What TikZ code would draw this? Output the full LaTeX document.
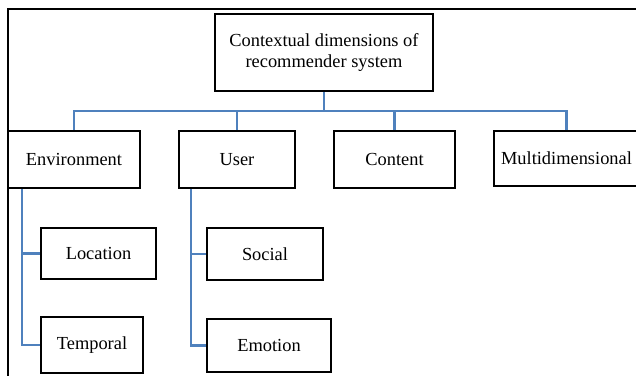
\documentclass[tikz,border=0pt]{standalone}
\usepackage{fontspec}
\setmainfont{Liberation Serif}
\usetikzlibrary{backgrounds}
\definecolor{linkblue}{RGB}{79,129,189}
\begin{document}
\begin{tikzpicture}[x=1pt,y=-1pt,
  box/.style={draw=black,line width=2.8pt,fill=white,inner sep=0pt,align=center,
    font=\fontsize{18.4}{20.5}\selectfont},
  conn/.style={draw=linkblue,line width=2.4pt},
  frame/.style={draw=black,line width=2.4pt}]
\useasboundingbox (0,0) rectangle (636,375);
% outer frame
\draw[frame] (8,380) -- (8,9) -- (645,9);
% helper coordinates for the bus lines
\coordinate (bar) at (0,111);
\coordinate (envtrunk) at (22,0);
\coordinate (usertrunk) at (191,0);
% nodes
\node[box,minimum width=218pt,minimum height=77pt] (root) at (324,52.5)
  {Contextual dimensions of\\recommender system};
\node[box,minimum width=132pt,minimum height=57pt] (env) at (74,159.5) {Environment};
\node[box,minimum width=116pt,minimum height=57pt] (user) at (237,159.5) {User};
\node[box,minimum width=121pt,minimum height=57pt] (content) at (394.5,159.5) {Content};
\node[box,minimum width=145pt,minimum height=55pt] (multi) at (566.5,158.5) {Multidimensional};
\node[box,minimum width=115pt,minimum height=51pt] (location) at (98.5,253.5) {Location};
\node[box,minimum width=102pt,minimum height=56pt] (temporal) at (92,345) {Temporal};
\node[box,minimum width=116pt,minimum height=52pt] (social) at (265,254) {Social};
\node[box,minimum width=124pt,minimum height=53pt] (emotion) at (269,345.5) {Emotion};
% connectors, kept behind the boxes
\begin{scope}[on background layer]
\draw[conn] (root.center) -- (root.center |- bar);
\draw[conn] (env.center) -- (env.center |- bar) -- (multi.center |- bar) -- (multi.center);
\draw[conn] (user.center) -- (user.center |- bar);
\draw[conn] (content.center) -- (content.center |- bar);
\draw[conn] (env.south -| envtrunk) |- (temporal.center);
\draw[conn] (location.center -| envtrunk) -- (location.center);
\draw[conn] (user.south -| usertrunk) |- (emotion.center);
\draw[conn] (social.center -| usertrunk) -- (social.center);
\end{scope}
\end{tikzpicture}
\end{document}
